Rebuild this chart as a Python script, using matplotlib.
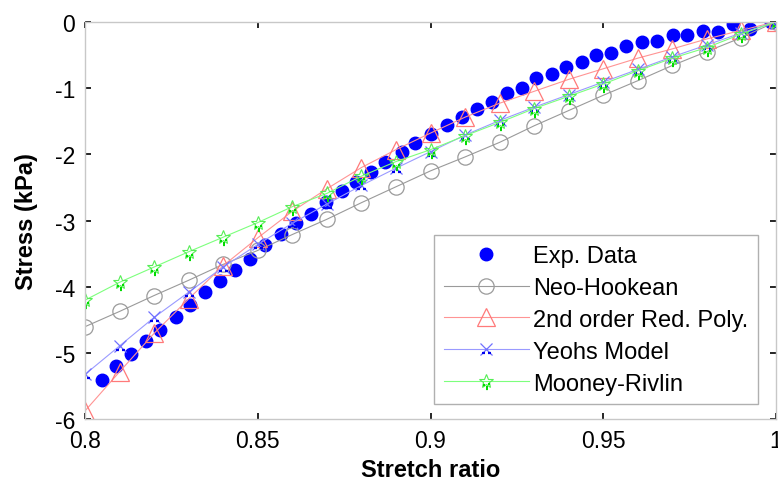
# Stress vs stretch ratio: experimental data and hyperelastic model fits
import numpy as np
import matplotlib.pyplot as plt
from matplotlib.path import Path
from matplotlib.legend_handler import HandlerTuple

plt.rcParams['font.family'] = ['Liberation Sans', 'DejaVu Sans']
plt.rcParams['axes.unicode_minus'] = False

exp_stretch = [0.8048, 0.8090, 0.8132, 0.8177, 0.8217, 0.8263, 0.8304, 0.8347,
               0.8391, 0.8434, 0.8478, 0.8521, 0.8566, 0.8611, 0.8654, 0.8698,
               0.8743, 0.8784, 0.8827, 0.8868, 0.8917, 0.8955, 0.9001, 0.9047,
               0.9090, 0.9134, 0.9177, 0.9221, 0.9264, 0.9305, 0.9351, 0.9392,
               0.9438, 0.9479, 0.9522, 0.9566, 0.9611, 0.9655, 0.9703, 0.9743,
               0.9788, 0.9833, 0.9876, 0.9925, 0.9985]
exp_stress = [-5.40, -5.20, -5.01, -4.82, -4.645, -4.45, -4.27, -4.08,
              -3.91, -3.74, -3.575, -3.375, -3.205, -3.036, -2.90, -2.72,
              -2.56, -2.42, -2.27, -2.11, -1.965, -1.83, -1.69, -1.56,
              -1.44, -1.317, -1.215, -1.075, -1.00, -0.85, -0.79, -0.69,
              -0.615, -0.50, -0.47, -0.37, -0.30, -0.29, -0.20, -0.20,
              -0.135, -0.15, -0.035, -0.11, 0.0]

# Model curves
model_stretch = [0.80, 0.81, 0.82, 0.83, 0.84, 0.85, 0.86, 0.87, 0.88, 0.89, 0.90,
                 0.91, 0.92, 0.93, 0.94, 0.95, 0.96, 0.97, 0.98, 0.99, 1.00]
neo_hookean = [-4.60, -4.37, -4.13, -3.90, -3.66, -3.45, -3.21, -2.98, -2.73, -2.49, -2.25,
               -2.04, -1.82, -1.57, -1.34, -1.11, -0.89, -0.66, -0.45, -0.24, 0.0]
red_poly = [-5.87, -5.28, -4.70, -4.18, -3.68, -3.26, -2.86, -2.52, -2.20, -1.93, -1.68,
            -1.44, -1.23, -1.05, -0.87, -0.71, -0.55, -0.41, -0.26, -0.13, 0.0]
yeoh = [-5.32, -4.89, -4.46, -4.08, -3.70, -3.36, -3.04, -2.75, -2.47, -2.21, -1.96,
        -1.71, -1.49, -1.29, -1.10, -0.91, -0.72, -0.53, -0.35, -0.17, 0.0]
mooney = [-4.20, -3.93, -3.70, -3.47, -3.25, -3.03, -2.79, -2.59, -2.33, -2.11, -1.93,
          -1.72, -1.52, -1.31, -1.125, -0.94, -0.74, -0.55, -0.39, -0.185, 0.0]


def dash_marker(segs, extent=8):
    # little dash clusters that sit under the x / star markers
    verts = [(-extent, -extent), (extent, extent)]
    codes = [Path.MOVETO, Path.MOVETO]
    for (x0, y0, x1, y1) in segs:
        verts += [(x0, y0), (x1, y1)]
        codes += [Path.MOVETO, Path.LINETO]
    return Path(verts, codes)


yeoh_dash = dash_marker([(-4, -3.5, -1.5, -3.5), (2, -3.5, 4.5, -3.5)])
mooney_dash = dash_marker([(-3.5, -4.5, -1, -4.5), (2.5, -4, 5, -4),
                           (-0.5, -7, 2, -7), (-0.5, -10, 2, -10)])
dash_ms = 2 * 8 / (100 / 72)

fig = plt.figure(figsize=(7.78, 4.85), dpi=100)
ax = fig.add_axes([0.1093, 0.1330, 0.8881, 0.8202])

h_exp, = ax.plot(exp_stretch, exp_stress, 'o', color='#0000ff', ms=9,
                 mec='#0000ff', label='Exp. Data')
h_neo, = ax.plot(model_stretch, neo_hookean, '-o', color='#9a9a9a', lw=0.8,
                 ms=11, mfc='none', mec='#9a9a9a', mew=0.9, label='Neo-Hookean')
h_red, = ax.plot(model_stretch, red_poly, '-^', color='#ff9494', lw=0.8,
                 ms=13, mfc='none', mec='#ff7a7a', mew=0.9, label='2nd order Red. Poly.')
h_yeoh, = ax.plot(model_stretch, yeoh, '-x', color='#9a9aff', lw=0.8,
                  ms=8, mec='#7070ff', mew=0.9, label='Yeohs Model')
h_yd, = ax.plot(model_stretch, yeoh, ls='none', marker=yeoh_dash, ms=dash_ms,
                mec='#0000ee', mew=1.6)
h_moon, = ax.plot(model_stretch, mooney, '-*', color='#7dff7d', lw=0.8,
                  ms=10, mfc='none', mec='#55ee55', mew=0.8, label='Mooney-Rivlin')
h_md, = ax.plot(model_stretch, mooney, ls='none', marker=mooney_dash, ms=dash_ms,
                mec='#00dd00', mew=1.6)

ax.set_xlim(0.8, 1.0)
ax.set_ylim(-6, 0)
ax.set_xticks([0.8, 0.85, 0.9, 0.95, 1.0])
ax.set_xticklabels(['0.8', '0.85', '0.9', '0.95', '1'])
ax.set_yticks([-6, -5, -4, -3, -2, -1, 0])
ax.set_yticklabels(['-6', '-5', '-4', '-3', '-2', '-1', '0'])
ax.tick_params(direction='in', length=4, width=1.2, color='black',
               labelsize=16.5, pad=7, top=True, right=True)
for sp in ax.spines.values():
    sp.set_color('#c8c8c8')
    sp.set_linewidth(1.0)

ax.set_xlabel('Stretch ratio', fontsize=17, fontweight='bold', labelpad=4)
ax.set_ylabel('Stress (kPa)', fontsize=17, fontweight='bold', labelpad=12)

leg = ax.legend([h_exp, h_neo, h_red, (h_yeoh, h_yd), (h_moon, h_md)],
                ['Exp. Data', 'Neo-Hookean', '2nd order Red. Poly.', 'Yeohs Model', 'Mooney-Rivlin'],
                handler_map={tuple: HandlerTuple(ndivide=1)},
                loc='lower right', bbox_to_anchor=(0.974, 0.039), fontsize=17,
                frameon=True, fancybox=False, framealpha=1, edgecolor='#b0b0b0',
                handlelength=3.6, handletextpad=0.2, labelspacing=0.42,
                borderpad=0.4, borderaxespad=0, numpoints=1)
leg.get_frame().set_linewidth(1.0)

fig.savefig('out.png', dpi=100)
